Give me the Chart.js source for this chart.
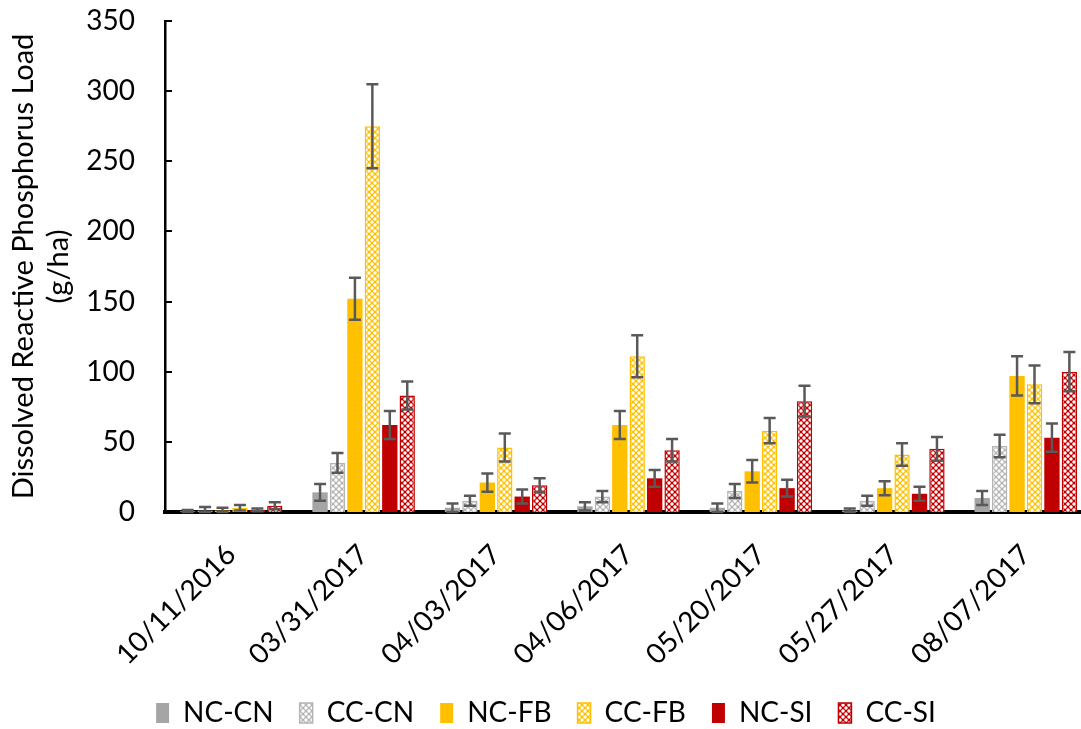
<!DOCTYPE html>
<html>
<head>
<meta charset="utf-8">
<script src="https://cdn.jsdelivr.net/npm/chart.js@4.4.0/dist/chart.umd.min.js"></script>
<style>
  html, body { margin: 0; padding: 0; background: #fff; overflow: hidden; }
  #wrap { width: 1094px; height: 729px; }
</style>
</head>
<body>
<div id="wrap"><canvas id="grafico" width="1094" height="729"></canvas></div>
<script>
// dados
var datas = ["10/11/2016", "03/31/2017", "04/03/2017", "04/06/2017", "05/20/2017", "05/27/2017", "08/07/2017"];
var nomesSeries = ["NC-CN", "CC-CN", "NC-FB", "CC-FB", "NC-SI", "CC-SI"];

var ncCn = [0.5, 14, 3, 4, 3, 1, 10];
var ccCn = [1, 35, 8, 11, 15, 8, 47];
var ncFb = [1, 152, 21, 62, 29, 17, 97];
var ccFb = [3, 275, 46, 111, 58, 41, 91];
var ncSi = [1.5, 62, 11, 24, 17, 13, 53];
var ccSi = [4.5, 83, 19, 44, 79, 45, 100];

var erroNcCn = [1, 6, 3, 3, 3, 1.5, 5];
var erroCcCn = [2.5, 7, 3.5, 4, 5, 3.5, 8];
var erroNcFb = [2, 15, 6.5, 10, 8, 5, 14];
var erroCcFb = [2, 30, 10, 15, 9, 8, 13.5];
var erroNcSi = [1, 10, 5, 6, 6, 5, 10];
var erroCcSi = [2.5, 10, 5, 8, 11, 8.5, 14];

var ticksY = [0, 50, 100, 150, 200, 250, 300, 350];

var fonte = "Lato, 'Open Sans', sans-serif";
var BASE_Y = 512; // onde fica o eixo X na imagem

// padrao quadriculado (barras CC)
function criarPadrao(cor) {
  var c = document.createElement("canvas");
  c.width = 6; c.height = 6;
  var g = c.getContext("2d");
  g.fillStyle = cor;
  g.fillRect(0, 0, 6, 6);
  g.fillStyle = "#ffffff";
  g.beginPath(); g.arc(3, 3, 1.7, 0, Math.PI * 2); g.fill();
  [[0, 0], [6, 0], [0, 6], [6, 6]].forEach(function(p) {
    g.beginPath(); g.arc(p[0], p[1], 1.7, 0, Math.PI * 2); g.fill();
  });
  return document.getElementById("grafico").getContext("2d").createPattern(c, "repeat");
}

var ctx = document.getElementById("grafico").getContext("2d");

var series = [
  { label: nomesSeries[0], data: ncCn, erro: erroNcCn, backgroundColor: "#a5a5a5", borderColor: "#a5a5a5", borderWidth: 0 },
  { label: nomesSeries[1], data: ccCn, erro: erroCcCn, backgroundColor: criarPadrao("#b4b4b4"), borderColor: "#b4b4b4", borderWidth: 1.5 },
  { label: nomesSeries[2], data: ncFb, erro: erroNcFb, backgroundColor: "#ffc000", borderColor: "#ffc000", borderWidth: 0 },
  { label: nomesSeries[3], data: ccFb, erro: erroCcFb, backgroundColor: criarPadrao("#ffc000"), borderColor: "#ffc000", borderWidth: 1.5 },
  { label: nomesSeries[4], data: ncSi, erro: erroNcSi, backgroundColor: "#c00000", borderColor: "#c00000", borderWidth: 0 },
  { label: nomesSeries[5], data: ccSi, erro: erroCcSi, backgroundColor: criarPadrao("#c00000"), borderColor: "#c00000", borderWidth: 1.5 }
];

// barras de erro
var pluginErro = {
  id: "barrasErro",
  afterDatasetsDraw: function(chart) {
    var g = chart.ctx;
    var y = chart.scales.y;
    g.save();
    g.strokeStyle = "#595959";
    g.lineWidth = 2.5;
    chart.data.datasets.forEach(function(ds, i) {
      var meta = chart.getDatasetMeta(i);
      meta.data.forEach(function(bar, j) {
        var v = ds.data[j], e = ds.erro[j];
        var yAlto = y.getPixelForValue(v + e);
        var yBaixo = y.getPixelForValue(Math.max(v - e, 0));
        g.beginPath();
        g.moveTo(bar.x, yAlto); g.lineTo(bar.x, yBaixo);
        g.moveTo(bar.x - 6, yAlto); g.lineTo(bar.x + 6, yAlto);
        g.moveTo(bar.x - 6, yBaixo); g.lineTo(bar.x + 6, yBaixo);
        g.stroke();
      });
    });
    g.restore();
  }
};

// marcas internas no eixo Y
var pluginMarcas = {
  id: "marcasY",
  afterDraw: function(chart) {
    var g = chart.ctx;
    var y = chart.scales.y;
    var x0 = chart.chartArea.left;
    g.save();
    g.strokeStyle = "#000";
    g.lineWidth = 2;
    ticksY.forEach(function(t) {
      var py = Math.round(y.getPixelForValue(t));
      g.beginPath(); g.moveTo(x0, py); g.lineTo(x0 + 7, py); g.stroke();
    });
    g.restore();
  }
};

new Chart(ctx, {
  type: "bar",
  data: { labels: datas, datasets: series },
  plugins: [pluginErro, pluginMarcas],
  options: {
    responsive: false,
    animation: false,
    layout: { padding: { top: 21, right: 2, bottom: -8, left: 0 } },
    datasets: { bar: { categoryPercentage: 0.79, barPercentage: 0.88 } },
    plugins: {
      legend: {
        position: "bottom",
        align: "center",
        labels: {
          font: { family: fonte, size: 28 },
          color: "#000",
          boxWidth: 13,
          boxHeight: 20,
          padding: 26
        }
      },
      tooltip: { enabled: false }
    },
    scales: {
      x: {
        grid: { display: false, drawTicks: false },
        border: { color: "#000", width: 4 },
        ticks: {
          font: { family: fonte, size: 28 },
          color: "#000",
          maxRotation: 45,
          minRotation: 45,
          padding: 26
        },
        afterFit: function(s) {
          var leg = s.chart.legend ? s.chart.legend.height : 60;
          s.height = 729 - BASE_Y - leg + 8;
        }
      },
      y: {
        min: 0,
        max: 350,
        afterBuildTicks: function(s) { s.ticks = ticksY.map(function(v) { return { value: v }; }); },
        grid: { display: false, drawTicks: false },
        border: { color: "#000", width: 2.5 },
        ticks: {
          font: { family: fonte, size: 28 },
          color: "#000",
          padding: 30
        },
        title: {
          display: true,
          text: ["Dissolved Reactive Phosphorus Load", "(g/ha)"],
          font: { family: fonte, size: 29 },
          color: "#000",
          padding: { top: 6, bottom: 0 }
        },
        afterFit: function(s) {
          s.width = 165;
          s.paddingTop = 0;
          s.paddingBottom = 0;
        }
      }
    }
  }
});
</script>
</body>
</html>
